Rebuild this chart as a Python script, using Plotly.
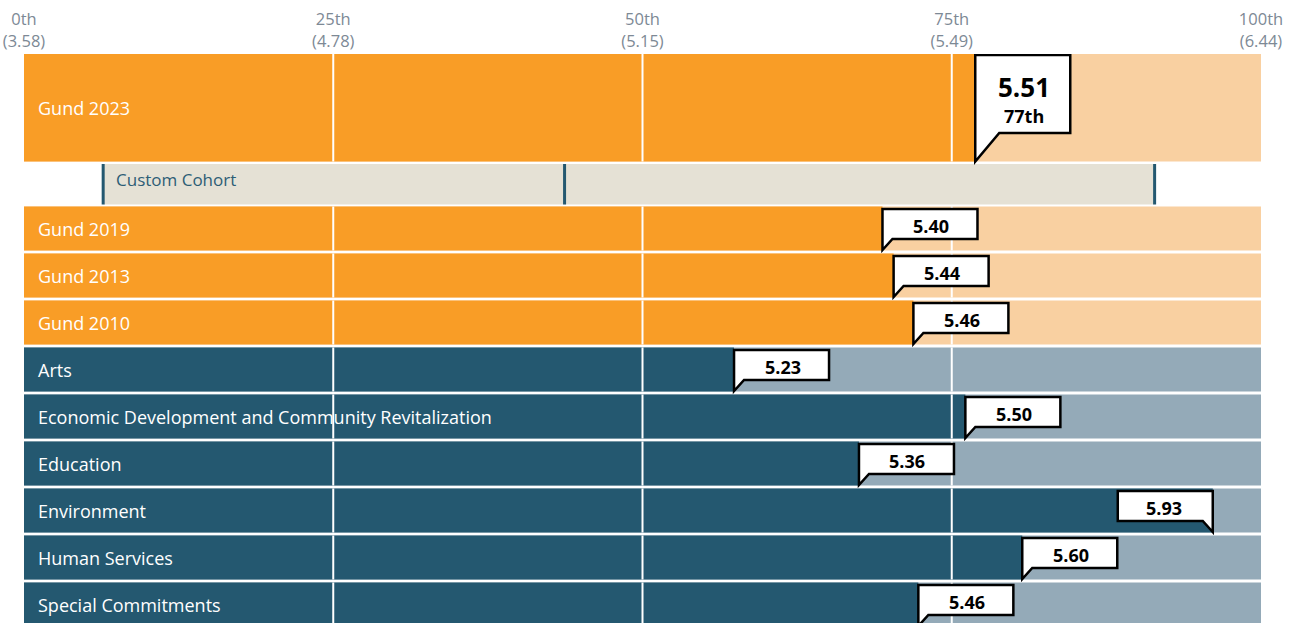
import plotly.graph_objects as go

# ---------------- data ----------------
tick_pcts = [0, 25, 50, 75, 100]
tick_scores = [3.58, 4.78, 5.15, 5.49, 6.44]

gund_labels = ["Gund 2023", "Gund 2019", "Gund 2013", "Gund 2010"]
gund_values = [5.51, 5.40, 5.44, 5.46]
gund_pcts = [76.9, 69.4, 70.3, 71.9]

area_labels = ["Arts", "Economic Development and Community Revitalization",
               "Education", "Environment", "Human Services", "Special Commitments"]
area_values = [5.23, 5.50, 5.36, 5.93, 5.60, 5.46]
area_pcts = [57.4, 76.1, 67.5, 96.1, 80.7, 72.3]

cohort_label = "Custom Cohort"
cohort_pcts = [6.4, 43.7, 91.4]  # min, median, max

grid_pcts = [25, 50, 75]

# ---------------- style / layout ----------------
ORANGE = "#F99D26"
ORANGE_L = "#F9D0A1"
TEAL = "#245870"
TEAL_L = "#94AAB8"
COHORT_BG = "#E5E1D5"
TICK_C = "#7d8995"
FONT = "Open Sans"

W, H = 1294, 623
ML, MR, MT = 24, 33, 54
PLOT_W = W - ML - MR

main_top, main_bot = 54, 161.5
coh_top, coh_bot = 164, 204.5
row0, pitch, rh = 206.5, 47, 44

rows = []
rows.append(dict(label=gund_labels[0], value=gund_values[0], pct=gund_pcts[0],
                 top=main_top, bot=main_bot, dark=ORANGE, light=ORANGE_L, big=True))
for i, (l, v, p) in enumerate(zip(gund_labels[1:], gund_values[1:], gund_pcts[1:])):
    t = row0 + pitch * i
    rows.append(dict(label=l, value=v, pct=p, top=t, bot=t + rh,
                     dark=ORANGE, light=ORANGE_L, big=False))
for j, (l, v, p) in enumerate(zip(area_labels, area_values, area_pcts)):
    t = row0 + pitch * (3 + j)
    rows.append(dict(label=l, value=v, pct=p, top=t, bot=t + rh,
                     dark=TEAL, light=TEAL_L, big=False))

centers = [(r["top"] + r["bot"]) / 2 for r in rows]
heights = [r["bot"] - r["top"] for r in rows]

fig = go.Figure()
fig.add_trace(go.Bar(orientation="h", y=centers, x=[100] * len(rows), base=0,
                     width=heights, marker=dict(color=[r["light"] for r in rows], line_width=0),
                     hoverinfo="skip", showlegend=False))
fig.add_trace(go.Bar(orientation="h", y=centers, x=[r["pct"] for r in rows], base=0,
                     width=heights, marker=dict(color=[r["dark"] for r in rows], line_width=0),
                     hoverinfo="skip", showlegend=False))
fig.add_trace(go.Bar(orientation="h", y=[(coh_top + coh_bot) / 2],
                     x=[cohort_pcts[2] - cohort_pcts[0]], base=[cohort_pcts[0]],
                     width=[coh_bot - coh_top], marker=dict(color=COHORT_BG, line_width=0),
                     hoverinfo="skip", showlegend=False))

shapes = []
annos = []
# grid lines over the bars
for r in rows:
    for g in grid_pcts:
        shapes.append(dict(type="line", xref="x", yref="y", x0=g, x1=g, y0=r["top"], y1=r["bot"],
                           line=dict(color="white", width=2), layer="above"))
# cohort markers
for p in cohort_pcts:
    shapes.append(dict(type="line", xref="x", yref="y", x0=p, x1=p, y0=coh_top, y1=coh_bot,
                       line=dict(color=TEAL, width=3), layer="above"))

# callouts
for r in rows:
    t, b, p = r["top"], r["bot"], r["pct"]
    if r["big"]:
        bw, btop, bbot, tail, tip = 95, t + 1, t + 79, 24, b
    else:
        bw, btop, bbot, tail, tip = 95, t + 2.5, t + 32.5, 10, b - 0.5
    sgn = -1 if p / 100 * PLOT_W + bw > PLOT_W else 1
    path = (f"M 0,{tip} L 0,{btop} L {sgn*bw},{btop} L {sgn*bw},{bbot} "
            f"L {sgn*tail},{bbot} Z")
    shapes.append(dict(type="path", xref="x", yref="y", xsizemode="pixel", xanchor=p,
                       path=path, fillcolor="white", line=dict(color="black", width=2.5),
                       layer="above"))
    cx = sgn * (bw / 2 + 1)
    if r["big"]:
        annos.append(dict(x=p, y=btop + 32, xref="x", yref="y", xshift=cx, showarrow=False,
                          text=f"<b>{r['value']:.2f}</b>", font=dict(size=26, color="black", family=FONT)))
        annos.append(dict(x=p, y=btop + 61, xref="x", yref="y", xshift=cx, showarrow=False,
                          text=f"<b>{round(p)}th</b>", font=dict(size=18, color="black", family=FONT)))
    else:
        annos.append(dict(x=p, y=(btop + bbot) / 2 + 1.5, xref="x", yref="y", xshift=cx, showarrow=False,
                          text=f"<b>{r['value']:.2f}</b>", font=dict(size=18, color="black", family=FONT)))
    # row label
    annos.append(dict(x=0, y=(t + b) / 2, xref="x", yref="y", xshift=12, xanchor="left",
                      showarrow=False, text=r["label"], font=dict(size=18, color="white", family=FONT)))

annos.append(dict(x=cohort_pcts[0], y=coh_top + 15, xref="x", yref="y", xshift=11, xanchor="left",
                  showarrow=False, text=cohort_label, font=dict(size=17, color="#2d5d75", family=FONT)))

tick_text = [f"{p}th<br>({s:.2f})" for p, s in zip(tick_pcts, tick_scores)]

fig.update_layout(
    width=W, height=H,
    margin=dict(l=ML, r=MR, t=MT, b=0, pad=0),
    paper_bgcolor="white", plot_bgcolor="white",
    barmode="overlay",
    shapes=shapes, annotations=annos,
    font=dict(family=FONT),
    xaxis=dict(range=[0, 100], side="top", tickvals=tick_pcts, ticktext=tick_text,
               showgrid=False, zeroline=False, showline=False, ticks="",
               tickfont=dict(size=16.5, color=TICK_C, family=FONT), automargin=False,
               ticklabelstandoff=3, fixedrange=True),
    yaxis=dict(range=[H, MT], visible=False, fixedrange=True),
    showlegend=False,
)

fig.write_html("out.html", config={"displayModeBar": False},
               post_script="document.body.style.margin='0';document.body.style.overflow='hidden';")
